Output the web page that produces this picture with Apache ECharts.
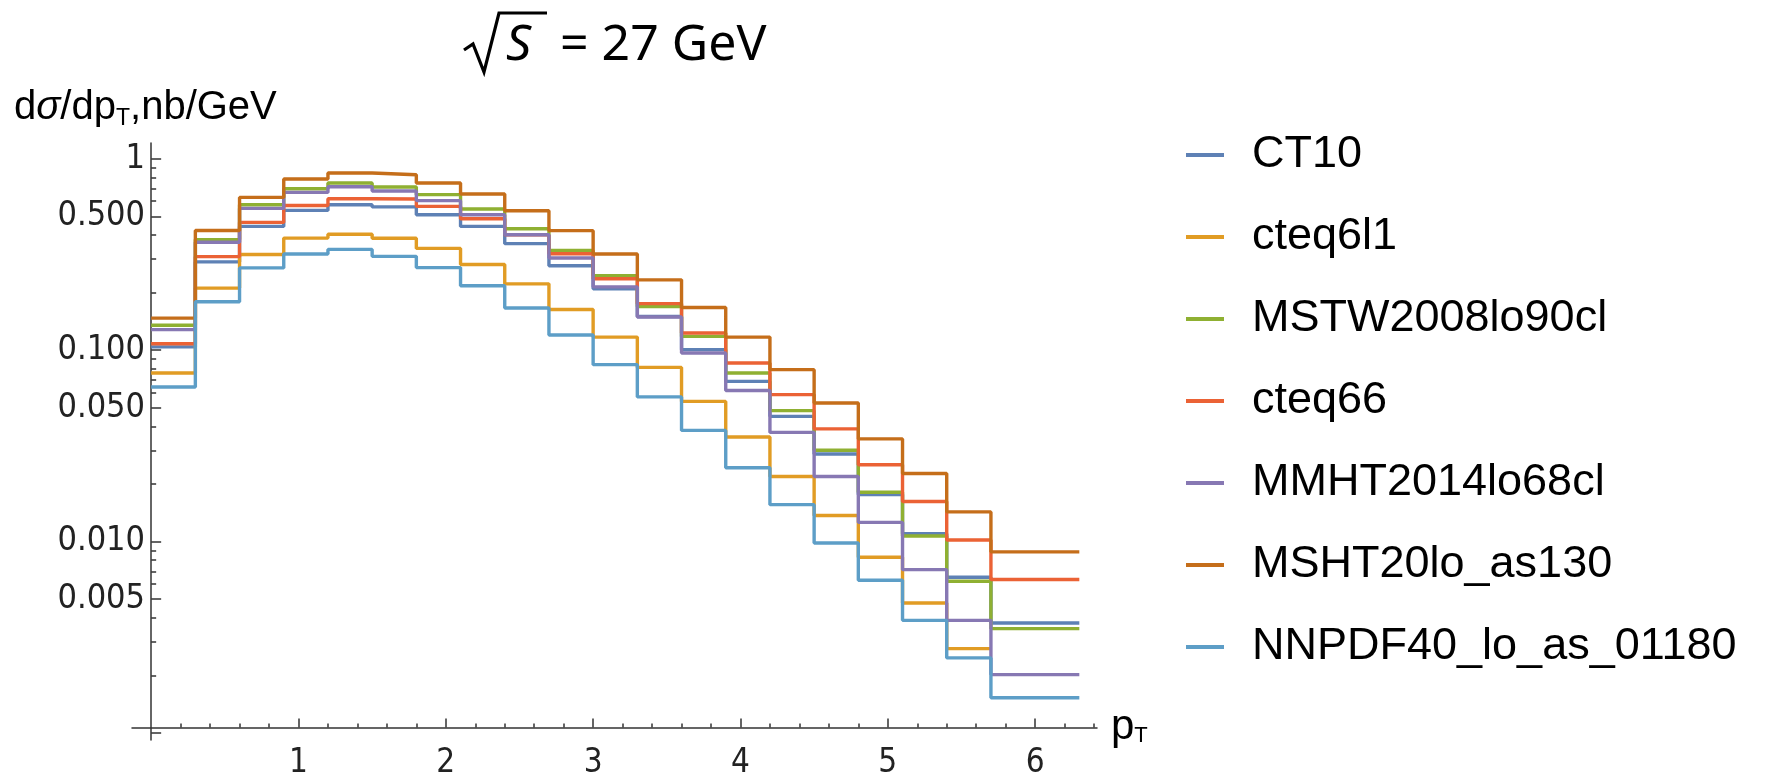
<!DOCTYPE html>
<html>
<head>
<meta charset="utf-8">
<script src="https://cdn.jsdelivr.net/npm/echarts@6/dist/echarts.min.js"></script>
<style>html,body{margin:0;padding:0;background:#fff}#chart{width:1772px;height:776px}</style>
</head>
<body>
<div id="chart"></div>
<script>
// ---- data ----
const binEdges = [0, 0.3, 0.6, 0.9, 1.2, 1.5, 1.8, 2.1, 2.4, 2.7, 3.0, 3.3, 3.6, 3.9, 4.2, 4.5, 4.8, 5.1, 5.4, 5.7, 6.3];
const seriesNames = ['CT10', 'cteq6l1', 'MSTW2008lo90cl', 'cteq66', 'MMHT2014lo68cl', 'MSHT20lo_as130', 'NNPDF40_lo_as_01180'];
const ct10   = [0.104, 0.289, 0.443, 0.537, 0.575, 0.560, 0.510, 0.443, 0.360, 0.276, 0.209, 0.150, 0.1006, 0.0687, 0.0451, 0.0287, 0.0176, 0.0110, 0.00651, 0.00376];
const cteq6l1 = [0.076, 0.211, 0.316, 0.385, 0.403, 0.384, 0.340, 0.280, 0.222, 0.163, 0.117, 0.0813, 0.0540, 0.0352, 0.0219, 0.0137, 0.00828, 0.00478, 0.00276, null];
const mstw   = [0.135, 0.378, 0.575, 0.697, 0.747, 0.712, 0.649, 0.546, 0.431, 0.332, 0.245, 0.169, 0.118, 0.0760, 0.0483, 0.0300, 0.0181, 0.0107, 0.00621, 0.00351];
const cteq66 = [0.108, 0.308, 0.465, 0.570, 0.618, 0.616, 0.564, 0.486, 0.400, 0.319, 0.236, 0.175, 0.123, 0.0857, 0.0586, 0.0388, 0.0252, 0.0162, 0.0102, 0.00634];
const mmht   = [0.128, 0.366, 0.550, 0.667, 0.714, 0.678, 0.604, 0.510, 0.401, 0.303, 0.214, 0.149, 0.0967, 0.0616, 0.0372, 0.0219, 0.0126, 0.00714, 0.00388, 0.00202];
const msht   = [0.147, 0.422, 0.628, 0.783, 0.842, 0.825, 0.747, 0.654, 0.535, 0.421, 0.318, 0.233, 0.167, 0.117, 0.0791, 0.0530, 0.0344, 0.0227, 0.0143, 0.00884];
const nnpdf  = [0.0642, 0.179, 0.269, 0.318, 0.336, 0.309, 0.270, 0.217, 0.166, 0.120, 0.0840, 0.0570, 0.0381, 0.0243, 0.0156, 0.00984, 0.00628, 0.00388, 0.00247, 0.00153];
const allValues = [ct10, cteq6l1, mstw, cteq66, mmht, msht, nnpdf];

// tick definitions
const yMajorTicks = [0.001, 0.005, 0.01, 0.05, 0.1, 0.5, 1];
const yLabelTicks = [0.005, 0.01, 0.05, 0.1, 0.5, 1];
const yLabelTexts = ['0.005', '0.010', '0.050', '0.100', '0.500', '1'];
const yMinorTicks = [0.002, 0.003, 0.004, 0.006, 0.007, 0.008, 0.009,
                     0.02, 0.03, 0.04, 0.06, 0.07, 0.08, 0.09,
                     0.2, 0.3, 0.4, 0.6, 0.7, 0.8, 0.9];
const xMajorTicks = [1, 2, 3, 4, 5, 6];
const xMinorTicks = [0.2, 0.4, 0.6, 0.8, 1.2, 1.4, 1.6, 1.8, 2.2, 2.4, 2.6, 2.8, 3.2, 3.4, 3.6, 3.8,
                     4.2, 4.4, 4.6, 4.8, 5.2, 5.4, 5.6, 5.8, 6.2, 6.4];

// axis ranges
const xMin = -0.13, xMax = 6.42;
const yMin = 0.00092, yMax = 1.208, yCross = 0.00107;

const colors = ['#5E81B5', '#E19C24', '#8FB032', '#EB6235', '#8778B3', '#C56E1A', '#5D9EC7'];

function stepPoints(vals) {
  const pts = [];
  let last = -1;
  vals.forEach((v, i) => { if (v != null) { pts.push([binEdges[i], v]); last = i; } });
  pts.push([binEdges[last + 1], vals[last]]);
  return pts;
}

const c = Math.log10(yCross);
const lg = v => Math.log10(v) - c;

const chart = echarts.init(document.getElementById('chart'), null, {renderer: 'canvas'});
const tickFont = '"DejaVu Sans Condensed", "DejaVu Sans", sans-serif';
const textFont = '"Liberation Sans", Arial, sans-serif';
const axisColor = '#333';

const option = {
  animation: false,
  backgroundColor: '#fff',
  grid: {left: 132, right: 675, top: 143, bottom: 36, containLabel: false, outerBoundsMode: 'none'},
  xAxis: [
    {
      type: 'value', position: 'bottom', min: xMin, max: xMax,
      axisLine: {show: true, onZero: true, onZeroAxisIndex: 1, lineStyle: {color: axisColor, width: 1.5}},
      axisTick: {show: true, inside: true, length: 9, customValues: xMajorTicks, lineStyle: {color: axisColor, width: 1.5}},
      axisLabel: {show: true, customValues: xMajorTicks, margin: 7, fontSize: 33, fontFamily: tickFont, color: '#222'},
      splitLine: {show: false},
      name: '{p|p}{t|T}', nameLocation: 'end', nameGap: 14,
      nameTextStyle: {rich: {
        p: {fontSize: 42, fontFamily: textFont, color: '#000', lineHeight: 46},
        t: {fontSize: 22, fontFamily: textFont, color: '#000', lineHeight: 46, verticalAlign: 'bottom', padding: [0, 0, 4, 0]}
      }}
    },
    {
      type: 'value', position: 'bottom', min: xMin, max: xMax,
      axisLine: {show: false, onZero: true, onZeroAxisIndex: 1},
      axisTick: {show: true, inside: true, length: 4, customValues: xMinorTicks, lineStyle: {color: axisColor, width: 1.5}},
      axisLabel: {show: false},
      splitLine: {show: false}
    }
  ],
  yAxis: [
    {
      type: 'log', position: 'left', logBase: 10, min: yMin, max: yMax, show: false,
      axisLine: {onZero: false}, splitLine: {show: false}
    },
    {
      type: 'value', position: 'left', min: lg(yMin), max: lg(yMax),
      axisLine: {show: true, onZero: true, onZeroAxisIndex: 0, lineStyle: {color: axisColor, width: 1.5}},
      axisTick: {show: true, inside: true, length: 10, customValues: yMajorTicks.map(lg), lineStyle: {color: axisColor, width: 1.5}},
      axisLabel: {
        show: true, customValues: yLabelTicks.map(lg), margin: -13, fontSize: 34, fontFamily: tickFont, color: '#222',
        padding: [6, 0, 0, 0],
        formatter: function (val) {
          let best = 0, bd = Infinity;
          yLabelTicks.forEach((t, i) => { const d = Math.abs(lg(t) - val); if (d < bd) { bd = d; best = i; } });
          return yLabelTexts[best];
        }
      },
      splitLine: {show: false}
    },
    {
      type: 'value', position: 'left', min: lg(yMin), max: lg(yMax),
      axisLine: {show: false, onZero: true, onZeroAxisIndex: 0},
      axisTick: {show: true, inside: true, length: 5, customValues: yMinorTicks.map(lg), lineStyle: {color: axisColor, width: 1.5}},
      axisLabel: {show: false},
      splitLine: {show: false}
    }
  ],
  legend: {
    orient: 'vertical', left: 1186, top: 114, padding: 0, itemGap: 0,
    itemWidth: 38, itemHeight: 4, icon: 'rect', selectedMode: false,
    data: seriesNames,
    textStyle: {fontSize: 45, fontFamily: textFont, color: '#000', lineHeight: 70, padding: [0, 0, 12, 23]}
  },
  series: allValues.map((vals, i) => ({
    name: seriesNames[i],
    type: 'line',
    xAxisIndex: 0, yAxisIndex: 0,
    step: 'end',
    showSymbol: false, symbol: 'none',
    silent: true,
    color: colors[i],
    lineStyle: {color: colors[i], width: 3.4},
    data: stepPoints(vals)
  })),
  graphic: [
    {type: 'polyline', shape: {points: [[464, 50], [473, 44], [484, 72], [499, 13], [547, 13]]},
     style: {stroke: '#000', lineWidth: 3.2, fill: null}},
    {type: 'text', x: 506, y: 46, style: {text: 'S', font: 'italic 50px "Noto Sans"', fill: '#000', verticalAlign: 'middle'}},
    {type: 'text', x: 560, y: 46, style: {text: '= 27 GeV', font: '50px "Noto Sans"', fill: '#000', verticalAlign: 'middle'}},
    {type: 'text', x: 14, y: 108, style: {
      text: '{a|d}{s|σ}{a|/dp}{b|T}{a|,nb/GeV}', verticalAlign: 'middle',
      rich: {
        a: {fontSize: 40, fontFamily: textFont, fill: '#000', lineHeight: 44},
        s: {fontSize: 40, fontFamily: textFont, fontStyle: 'italic', fill: '#000', lineHeight: 44},
        b: {fontSize: 23, fontFamily: textFont, fill: '#000', lineHeight: 44, verticalAlign: 'bottom'}
      }
    }}
  ]
};
chart.setOption(option);
</script>
</body>
</html>
